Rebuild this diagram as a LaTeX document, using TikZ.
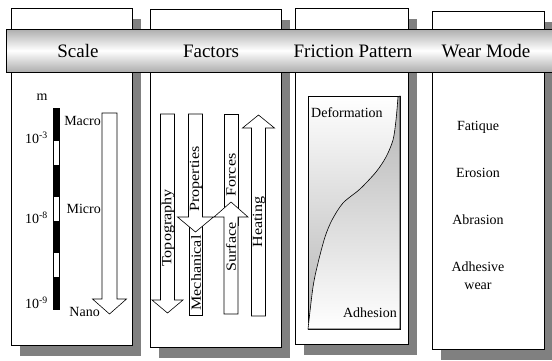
\documentclass[tikz,border=0pt]{standalone}
\usepackage{fontspec}
\setmainfont{Liberation Serif}
\usetikzlibrary{shadows}

% #1 x of axis, #2 y of tail, #3 y of head base, #4 y of tip, #5 half shaft, #6 half head
\newcommand{\fatarrow}[6]{%
  \draw[fat] ({#1-#5},#2) -- ({#1-#5},#3) -- ({#1-#6},#3) -- (#1,#4)
    -- ({#1+#6},#3) -- ({#1+#5},#3) -- ({#1+#5},#2) -- cycle;}
\newcommand{\widen}[1]{\scalebox{1.15}[1]{#1}}

\tikzset{
  panel/.style={draw=black,fill=white,line width=0.8pt,
    drop shadow={shadow xshift=9pt,shadow yshift=-11pt,fill=black!50,opacity=1}},
  banner/.style={draw=black,line width=0.8pt,top color=black!32,bottom color=black!32,middle color=white},
  head/.style={font=\rmfamily\fontsize{19}{21}\selectfont,inner sep=0pt},
  lbl/.style={font=\rmfamily\fontsize{14}{18}\selectfont,inner sep=0pt},
  vlbl/.style={lbl,rotate=90},
  fat/.style={draw=black,fill=white,line width=0.6pt},
}

\begin{document}
\begin{tikzpicture}[x=1pt,y=-1pt]
	\useasboundingbox (0,0) rectangle (552,360);
	% panels
	\draw[panel] (11,8) rectangle (132,345);
	\draw[panel] (150,9) rectangle (281,347);
	\draw[panel] (295,8) rectangle (408,344);
	\draw[panel] (432,11) rectangle (544,349);
	% banner
	\draw[banner] (6,29) rectangle (560,72);
	\node[head](scale) at (78,51) {Scale};
	\node[head](factors) at (211,51) {Factors};
	\node[head](friction) at (353,51) {Friction Pattern};
	\node[head](wear) at (486,51) {Wear Mode};
	% scale
	\node[lbl](m) at (42,97) {m};
	\draw[line width=0.6pt] (53,108) rectangle (59,309);
	\fill (53,108) rectangle (59,141);
	\fill (53,165) rectangle (59,197);
	\fill (53,221) rectangle (59,253);
	\fill (53,277) rectangle (59,309);
	\node[lbl,anchor=east](e3) at (48,138) {10\textsuperscript{-3}};
	\node[lbl,anchor=east](e8) at (48,218) {10\textsuperscript{-8}};
	\node[lbl,anchor=east](e9) at (48,303) {10\textsuperscript{-9}};
	\fatarrow{109.5}{113}{299}{314}{7.5}{17}
	\node[lbl,anchor=east](macro) at (101,121) {Macro};
	\node[lbl,anchor=east](micro) at (101,209) {Micro};
	\node[lbl,anchor=east](nano) at (100,312) {Nano};
	% factors
	\fatarrow{167.5}{114}{300}{313}{7}{15.5}
	\node[vlbl](topo) at (168,228) {\widen{Topography}};
	\draw[fat] (189,210) rectangle (202,315);
	\fatarrow{195.5}{114}{217}{232}{7}{18}
	\node[vlbl](mech) at (196,273) {\widen{Mechanical}};
	\node[vlbl](prop) at (196,179) {\widen{Properties}};
	\draw[fat] (224,114) rectangle (238,225);
	\fatarrow{231}{314}{217}{202}{7}{17}
	\node[vlbl](forces) at (231,175) {\widen{Forces}};
	\node[vlbl](surf) at (231,247) {\widen{Surface}};
	\fatarrow{258.5}{316}{128}{115}{7}{16}
	\node[vlbl](heat) at (259,222) {\widen{Heating}};
	% friction pattern
	\draw[line width=0.6pt,top color=white,bottom color=black!30] (308,96) rectangle (400,329);
	\draw[line width=0.6pt,top color=black!30,bottom color=white]
		plot[smooth] coordinates {(308,329) (313,287) (318,263) (325,237) (332,220) (343,203)
		(360,189) (376,172) (386,157) (393,140) (396,120) (398,97)}
		-- (400,96) -- (400,329) -- cycle;
	\node[lbl,anchor=west](deform) at (311,113) {Deformation};
	\node[lbl,anchor=east](adh) at (397,313) {Adhesion};
	% wear mode
	\node[lbl](fat) at (478,127) {Fatique};
	\node[lbl](ero) at (478,173) {Erosion};
	\node[lbl](abr) at (478,220) {Abrasion};
	\node[lbl,align=center](adw) at (478,276) {Adhesive\\wear};
\end{tikzpicture}
\end{document}
